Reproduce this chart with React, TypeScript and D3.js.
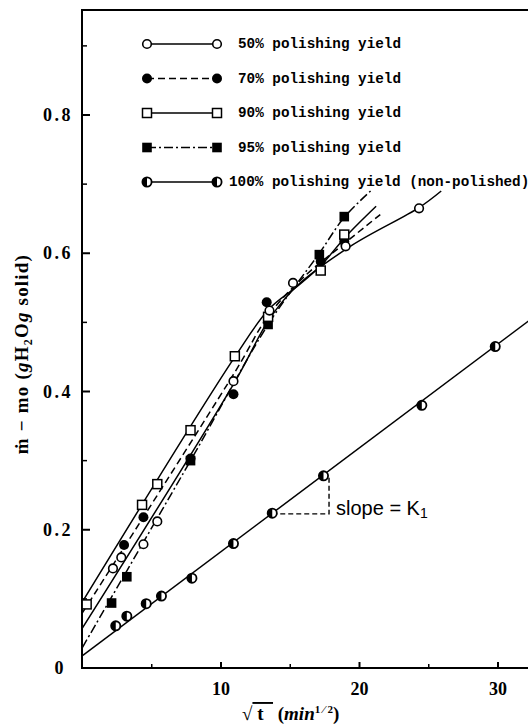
import { useEffect, useRef } from "react";
import * as d3 from "d3";

// axis ticks
const xTicks = [10, 20, 30];
const xMinorTicks = [5, 15, 25];
const yTicks = [0, 0.2, 0.4, 0.6, 0.8];
const yTickLabels = ["0", "0.2", "0.4", "0.6", "0.8"];
const yMinorTicks = [0.1, 0.3, 0.5, 0.7, 0.9];

// measured points, [sqrt(t), m - mo]
const yield50 = [[2.2, 0.144], [2.8, 0.16], [4.4, 0.179], [5.4, 0.212], [10.9, 0.415], [13.5, 0.517], [15.2, 0.557], [19.0, 0.61], [24.3, 0.665]];
const yield70 = [[3.0, 0.178], [4.4, 0.218], [7.8, 0.303], [10.9, 0.396], [13.3, 0.529], [17.2, 0.588], [18.9, 0.617]];
const yield90 = [[0.3, 0.092], [4.3, 0.236], [5.4, 0.266], [7.8, 0.344], [11.0, 0.451], [13.4, 0.508], [17.2, 0.575], [18.9, 0.627]];
const yield95 = [[2.1, 0.094], [3.2, 0.132], [7.8, 0.3], [13.4, 0.497], [17.1, 0.598], [18.9, 0.653]];
const yield100 = [[2.4, 0.061], [3.2, 0.075], [4.6, 0.093], [5.7, 0.104], [7.9, 0.13], [10.9, 0.18], [13.7, 0.224], [17.4, 0.278], [24.5, 0.38], [29.8, 0.465]];

// hand drawn fit curves
const fit50 = [[0, 0.058], [11, 0.414], [13.5, 0.505], [15.5, 0.553], [19.5, 0.612], [24.3, 0.666], [25.9, 0.69]];
const fit70 = [[0, 0.08], [11, 0.428], [13.5, 0.512], [16, 0.566], [18.9, 0.614], [21.5, 0.656]];
const fit90 = [[0, 0.096], [11, 0.45], [13.5, 0.52], [15.5, 0.552], [17.2, 0.582], [19, 0.624], [21.2, 0.668]];
const fit95 = [[0, 0.03], [7.8, 0.3], [13.5, 0.5], [17.1, 0.6], [18.9, 0.652], [20.8, 0.69]];
const fit100 = [[0, 0.018], [33, 0.514]];

const slopeTriangle = [[13.7, 0.223], [17.8, 0.223], [17.8, 0.278]];

const legendLabels = [
  "50% polishing yield",
  "70% polishing yield",
  "90% polishing yield",
  "95% polishing yield",
  "100% polishing yield (non-polished)",
];

const drawMarker = (g: any, kind: string, cx: number, cy: number) => {
  if (kind === "openCircle") {
    g.append("circle").attr("cx", cx).attr("cy", cy).attr("r", 4.3)
      .attr("fill", "#fff").attr("stroke", "#000").attr("stroke-width", 1.6);
  } else if (kind === "filledCircle") {
    g.append("circle").attr("cx", cx).attr("cy", cy).attr("r", 5).attr("fill", "#000");
  } else if (kind === "openSquare") {
    g.append("rect").attr("x", cx - 4.5).attr("y", cy - 4.5).attr("width", 9).attr("height", 9)
      .attr("fill", "#fff").attr("stroke", "#000").attr("stroke-width", 1.5);
  } else if (kind === "filledSquare") {
    g.append("rect").attr("x", cx - 4.8).attr("y", cy - 4.8).attr("width", 9.6).attr("height", 9.6).attr("fill", "#000");
  } else {
    g.append("circle").attr("cx", cx).attr("cy", cy).attr("r", 4.6)
      .attr("fill", "#fff").attr("stroke", "#000").attr("stroke-width", 1.8);
    g.append("path")
      .attr("d", `M${cx},${cy - 4.6} A4.6,4.6 0 0,0 ${cx},${cy + 4.6} Z`)
      .attr("fill", "#000");
  }
};

const App = () => {
  const ref = useRef<SVGSVGElement>(null);

  useEffect(() => {
    const svg = d3.select(ref.current);
    svg.selectAll("*").remove();

    const left = 82, right = 528, top = 10, bottom = 668;
    const x = d3.scaleLinear().domain([0, 30]).range([82.5, 498]);
    const y = d3.scaleLinear().domain([0, 0.8]).range([668, 115]);

    svg.append("defs").append("clipPath").attr("id", "plot-clip")
      .append("rect").attr("x", left).attr("y", top).attr("width", right - left).attr("height", bottom - top);

    // frame: left, bottom, top
    svg.append("path")
      .attr("d", `M${right},${top} H${left} V${bottom} H${right}`)
      .attr("fill", "none").attr("stroke", "#000").attr("stroke-width", 2);

    // y ticks
    svg.selectAll(".ytick").data(yTicks.filter((d) => d > 0)).enter().append("line")
      .attr("x1", left).attr("x2", left + 8).attr("y1", (d) => y(d)).attr("y2", (d) => y(d))
      .attr("stroke", "#000").attr("stroke-width", 2);
    svg.selectAll(".yminor").data(yMinorTicks).enter().append("line")
      .attr("x1", left).attr("x2", left + 5).attr("y1", (d) => y(d)).attr("y2", (d) => y(d))
      .attr("stroke", "#000").attr("stroke-width", 1.5);
    svg.selectAll(".ylabel").data(yTicks).enter().append("text")
      .attr("x", (d) => (d === 0 ? 66 : 73)).attr("y", (d) => y(d) + 6)
      .attr("text-anchor", "end")
      .style("font-family", "'Liberation Serif', serif").style("font-weight", "bold").style("font-size", "18px")
      .style("letter-spacing", "2.5px")
      .text((d, i) => yTickLabels[i]);

    // x ticks
    svg.selectAll(".xtick").data(xTicks).enter().append("line")
      .attr("x1", (d) => x(d)).attr("x2", (d) => x(d)).attr("y1", bottom).attr("y2", bottom - 6)
      .attr("stroke", "#000").attr("stroke-width", 2);
    svg.selectAll(".xminor").data(xMinorTicks).enter().append("line")
      .attr("x1", (d) => x(d)).attr("x2", (d) => x(d)).attr("y1", bottom).attr("y2", bottom - 4)
      .attr("stroke", "#000").attr("stroke-width", 1.5);
    svg.selectAll(".xlabel").data(xTicks).enter().append("text")
      .attr("x", (d) => x(d)).attr("y", 695).attr("text-anchor", "middle")
      .style("font-family", "'Liberation Serif', serif").style("font-weight", "bold").style("font-size", "18px")
      .text((d) => String(d));

    // axis titles
    const xt = svg.append("text").attr("x", 242).attr("y", 720)
      .style("font-family", "'Liberation Serif', serif").style("font-weight", "bold").style("font-size", "19px")
      .style("white-space", "pre");
    xt.append("tspan").text("√");
    xt.append("tspan").style("text-decoration", "overline").text(" t  ");
    xt.append("tspan").text(" (");
    xt.append("tspan").style("font-style", "italic").text("min");
    xt.append("tspan").attr("dy", -7).style("font-size", "11px").text("1 ⁄ 2");
    xt.append("tspan").attr("dy", 7).text(")");

    const yt = svg.append("text").attr("transform", "translate(28,354) rotate(-90)").attr("text-anchor", "middle")
      .style("font-family", "'Liberation Serif', serif").style("font-weight", "bold").style("font-size", "19px")
      .style("letter-spacing", "1.2px").style("white-space", "pre");
    yt.append("tspan").text("ṁ − mo (");
    yt.append("tspan").style("font-style", "italic").text("g");
    yt.append("tspan").text("H");
    yt.append("tspan").attr("dy", 4).style("font-size", "12px").text("2");
    yt.append("tspan").attr("dy", -4).text("O");
    yt.append("tspan").style("font-style", "italic").text("g");
    yt.append("tspan").text(" solid)");

    // series
    const series = [
      { pts: yield70, fit: fit70, marker: "filledCircle", dash: "7,4" },
      { pts: yield95, fit: fit95, marker: "filledSquare", dash: "9,3,2,3" },
      { pts: yield90, fit: fit90, marker: "openSquare", dash: null },
      { pts: yield50, fit: fit50, marker: "openCircle", dash: null },
      { pts: yield100, fit: fit100, marker: "halfCircle", dash: null },
    ];
    const line = d3.line<number[]>().x((d) => x(d[0])).y((d) => y(d[1])).curve(d3.curveCatmullRom.alpha(0.5));

    const plot = svg.append("g").attr("clip-path", "url(#plot-clip)");
    series.forEach((s) => {
      plot.append("path").datum(s.fit).attr("d", line)
        .attr("fill", "none").attr("stroke", "#000").attr("stroke-width", 1.5)
        .attr("stroke-dasharray", s.dash);
    });

    // slope triangle
    svg.append("path").datum(slopeTriangle)
      .attr("d", d3.line<number[]>().x((d) => x(d[0])).y((d) => y(d[1])))
      .attr("fill", "none").attr("stroke", "#000").attr("stroke-width", 1.4).attr("stroke-dasharray", "5,3");
    const st = svg.append("text").attr("x", x(slopeTriangle[1][0]) + 7).attr("y", y(slopeTriangle[0][1]) + 1)
      .style("font-family", "'Liberation Sans', sans-serif").style("font-size", "20px");
    st.append("tspan").text("slope = K");
    st.append("tspan").attr("dy", 3).style("font-size", "14px").text("1");

    const marks = svg.append("g");
    series.forEach((s) => {
      s.pts.forEach((p) => drawMarker(marks, s.marker, x(p[0]), y(p[1])));
    });

    // legend
    const legendOrder = [
      { marker: "openCircle", dash: null },
      { marker: "filledCircle", dash: "7,4" },
      { marker: "openSquare", dash: null },
      { marker: "filledSquare", dash: "9,3,2,3" },
      { marker: "halfCircle", dash: null },
    ];
    const legendY = d3.scalePoint().domain(legendLabels).range([44, 182]);
    const lg = svg.append("g");
    legendLabels.forEach((label, i) => {
      const ly = legendY(label) as number;
      lg.append("line").attr("x1", 147).attr("x2", 217).attr("y1", ly).attr("y2", ly)
        .attr("stroke", "#000").attr("stroke-width", 1.5).attr("stroke-dasharray", legendOrder[i].dash);
      drawMarker(lg, legendOrder[i].marker, 147, ly);
      drawMarker(lg, legendOrder[i].marker, 217, ly);
      lg.append("text").attr("x", i === 4 ? 229 : 238).attr("y", ly + 4)
        .style("font-family", "'Liberation Mono', monospace").style("font-weight", "bold").style("font-size", "14.3px")
        .text(label);
    });
  }, []);

  return (
    <svg ref={ref} width={528} height={727}
      style={{ position: "absolute", left: 0, top: 0, background: "#fff" }} />
  );
};

export default App;
